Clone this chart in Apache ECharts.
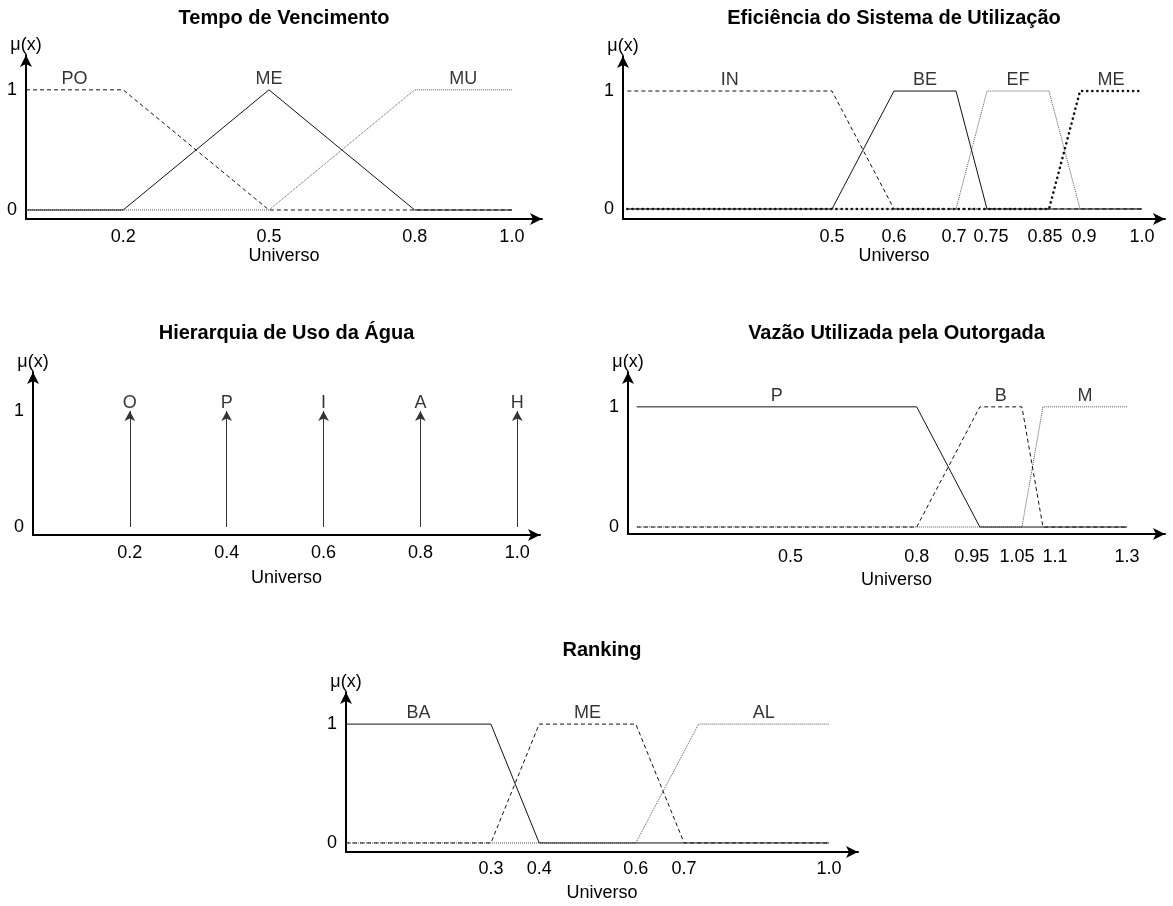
<!DOCTYPE html>
<html>
<head>
<meta charset="utf-8">
<script src="https://cdn.jsdelivr.net/npm/echarts@6/dist/echarts.min.js"></script>
<style>
  html, body { margin: 0; padding: 0; background: #fff; }
  #chart { width: 1173px; height: 906px; }
</style>
</head>
<body>
<div id="chart"></div>
<script>
// Tempo de Vencimento
const tempoTicks = [0.2, 0.5, 0.8, 1.0];
const tempoPO = [[0, 1], [0.2, 1], [0.5, 0], [1.0, 0]];
const tempoME = [[0, 0], [0.2, 0], [0.5, 1], [0.8, 0], [1.0, 0]];
const tempoMU = [[0, 0], [0.5, 0], [0.8, 1], [1.0, 1]];

// Eficiência do Sistema de Utilização
const eficTicks = [0.5, 0.6, 0.7, 0.75, 0.85, 0.9, 1.0];
const eficIN = [[0.17, 1], [0.5, 1], [0.6, 0], [1.0, 0]];
const eficBE = [[0.17, 0], [0.5, 0], [0.6, 1], [0.7, 1], [0.75, 0], [1.0, 0]];
const eficEF = [[0.17, 0], [0.7, 0], [0.75, 1], [0.85, 1], [0.9, 0], [1.0, 0]];
const eficME = [[0.17, 0], [0.85, 0], [0.9, 1], [1.0, 1]];

// Hierarquia de Uso da Água
const hierTicks = [0.2, 0.4, 0.6, 0.8, 1.0];
const hierNames = ['O', 'P', 'I', 'A', 'H'];

// Vazão Utilizada pela Outorgada
const vazaoTicks = [0.5, 0.8, 0.95, 1.05, 1.1, 1.3];
const vazaoP = [[0.135, 1], [0.8, 1], [0.95, 0], [1.3, 0]];
const vazaoB = [[0.135, 0], [0.8, 0], [0.95, 1], [1.05, 1], [1.1, 0], [1.3, 0]];
const vazaoM = [[0.135, 0], [1.05, 0], [1.1, 1], [1.3, 1]];

// Ranking
const rankTicks = [0.3, 0.4, 0.6, 0.7, 1.0];
const rankBA = [[0, 1], [0.3, 1], [0.4, 0], [1.0, 0]];
const rankME = [[0, 0], [0.3, 0], [0.4, 1], [0.6, 1], [0.7, 0], [1.0, 0]];
const rankAL = [[0, 0], [0.6, 0], [0.73, 1], [1.0, 1]];

const FONT = "'Liberation Sans', Arial, sans-serif";
const FS = 18;

const solid = { type: 'solid', width: 1, color: '#111' };
const dashed = { type: [4, 3], width: 1, color: '#111' };
const dotted = { type: [1, 1], width: 1, color: '#555' };
const boldDots = { type: [0.1, 5], width: 2.6, color: '#111', cap: 'round' };

// panel layouts (pixels) and axis ranges; shift nudges crowded tick labels apart
const panels = [
  { title: 'Tempo de Vencimento', grid: { left: 26, top: 55, width: 516, height: 164 }, x: [0, 1.062], y: [-0.075, 1.29], ticks: tempoTicks, titleY: 18, margin: 9, nameGap: 28 },
  { title: 'Eficiência do Sistema de Utilização', grid: { left: 623, top: 56, width: 542, height: 163 }, x: [0.163, 1.037], y: [-0.085, 1.297], ticks: eficTicks, titleY: 18, margin: 9, nameGap: 28, shift: { 0.7: -2, 0.75: 4, 0.85: -4, 0.9: 4 } },
  { title: 'Hierarquia de Uso da Água', grid: { left: 33, top: 372, width: 507, height: 163 }, x: [0, 1.047], y: [-0.069, 1.336], ticks: hierTicks, titleY: 333, margin: 9, nameGap: 34 },
  { title: 'Vazão Utilizada pela Outorgada', grid: { left: 628, top: 372, width: 537, height: 162 }, x: [0.114, 1.39], y: [-0.058, 1.29], ticks: vazaoTicks, titleY: 333, margin: 14, nameGap: 37, shift: { 0.95: -8, 1.05: -5, 1.1: 12 } },
  { title: 'Ranking', grid: { left: 346, top: 692, width: 512, height: 160 }, x: [0, 1.06], y: [-0.076, 1.27], ticks: rankTicks, titleY: 650, margin: 8, nameGap: 32 }
];

const fmt = (v) => (Number.isInteger(v) ? v.toFixed(1) : String(v));

function tickLabel(p) {
  const shift = p.shift || {};
  const rich = {};
  p.ticks.forEach((t, k) => {
    const d = shift[t] || 0;
    rich['t' + k] = {
      fontFamily: FONT,
      fontSize: FS,
      color: '#000',
      padding: [0, d < 0 ? -2 * d : 0, 0, d > 0 ? 2 * d : 0]
    };
  });
  return {
    customValues: p.ticks,
    formatter: (v) => {
      const k = p.ticks.findIndex((t) => Math.abs(t - v) < 1e-9);
      return '{t' + k + '|' + fmt(v) + '}';
    },
    rich: rich,
    margin: p.margin,
    fontFamily: FONT,
    fontSize: FS,
    color: '#000'
  };
}

// centre of the part of a set that sits at full membership
function plateauCenter(data) {
  const top = data.filter((p) => p[1] === 1).map((p) => p[0]);
  return (Math.min(...top) + Math.max(...top)) / 2;
}

function setSeries(idx, name, data, lineStyle) {
  return {
    type: 'line',
    name: name,
    xAxisIndex: idx,
    yAxisIndex: idx,
    data: data,
    symbol: 'none',
    lineStyle: lineStyle,
    silent: true
  };
}

const letterLabel = {
  show: true,
  position: 'top',
  distance: 2,
  formatter: '{b}',
  fontFamily: FONT,
  fontSize: FS,
  color: '#000'
};

function labelSeries(idx, sets) {
  return {
    type: 'scatter',
    xAxisIndex: idx,
    yAxisIndex: idx,
    symbolSize: 0,
    silent: true,
    data: sets.map((s) => ({ name: s[0], value: [plateauCenter(s[1]), 1] })),
    label: letterLabel
  };
}

const chart = echarts.init(document.getElementById('chart'));

const series = [
  setSeries(0, 'MU', tempoMU, dotted),
  setSeries(0, 'ME', tempoME, solid),
  setSeries(0, 'PO', tempoPO, dashed),
  labelSeries(0, [['PO', tempoPO], ['ME', tempoME], ['MU', tempoMU]]),

  setSeries(1, 'EF', eficEF, dotted),
  setSeries(1, 'BE', eficBE, solid),
  setSeries(1, 'IN', eficIN, dashed),
  setSeries(1, 'ME', eficME, boldDots),
  labelSeries(1, [['IN', eficIN], ['BE', eficBE], ['EF', eficEF], ['ME', eficME]]),

  {
    type: 'scatter',
    xAxisIndex: 2,
    yAxisIndex: 2,
    symbolSize: 0,
    silent: true,
    data: hierTicks.map((x, i) => ({ name: hierNames[i], value: [x, 1] })),
    label: Object.assign({}, letterLabel, { distance: -1 }),
    markLine: {
      silent: true,
      animation: false,
      symbol: ['none', 'arrow'],
      symbolSize: [8, 10],
      label: { show: false },
      lineStyle: { type: 'solid', width: 1, color: '#333' },
      data: hierTicks.map((x) => [{ coord: [x, 0] }, { coord: [x, 1] }])
    }
  },

  setSeries(3, 'M', vazaoM, dotted),
  setSeries(3, 'B', vazaoB, dashed),
  setSeries(3, 'P', vazaoP, solid),
  labelSeries(3, [['P', vazaoP], ['B', vazaoB], ['M', vazaoM]]),

  setSeries(4, 'AL', rankAL, dotted),
  setSeries(4, 'ME', rankME, dashed),
  setSeries(4, 'BA', rankBA, solid),
  labelSeries(4, [['BA', rankBA], ['ME', rankME], ['AL', rankAL]])
];

const axisLine = {
  onZero: false,
  symbol: ['none', 'arrow'],
  symbolSize: [9, 12],
  lineStyle: { color: '#000', width: 2 }
};

chart.setOption({
  animation: false,
  backgroundColor: '#fff',
  textStyle: { fontFamily: FONT },
  graphic: panels.map((p) => ({
    type: 'text',
    x: p.grid.left + p.grid.width / 2,
    y: p.titleY,
    style: {
      text: p.title,
      align: 'center',
      verticalAlign: 'middle',
      fontFamily: FONT,
      fontSize: 20,
      fontWeight: 'bold',
      fill: '#000'
    }
  })),
  grid: panels.map((p) => Object.assign({ containLabel: false }, p.grid)),
  xAxis: panels.map((p, i) => ({
    type: 'value',
    gridIndex: i,
    min: p.x[0],
    max: p.x[1],
    name: 'Universo',
    nameLocation: 'middle',
    nameGap: p.nameGap,
    nameTextStyle: { fontFamily: FONT, fontSize: FS, color: '#000' },
    axisLine: axisLine,
    axisTick: { show: false },
    splitLine: { show: false },
    axisLabel: tickLabel(p)
  })),
  yAxis: panels.map((p, i) => ({
    type: 'value',
    gridIndex: i,
    min: p.y[0],
    max: p.y[1],
    name: 'μ(x)',
    nameLocation: 'end',
    nameGap: 1,
    nameTextStyle: { fontFamily: FONT, fontSize: FS, color: '#000' },
    axisLine: axisLine,
    axisTick: { show: false },
    splitLine: { show: false },
    axisLabel: {
      customValues: [0, 1],
      margin: 9,
      fontFamily: FONT,
      fontSize: FS,
      color: '#000'
    }
  })),
  series: series
});
</script>
</body>
</html>
